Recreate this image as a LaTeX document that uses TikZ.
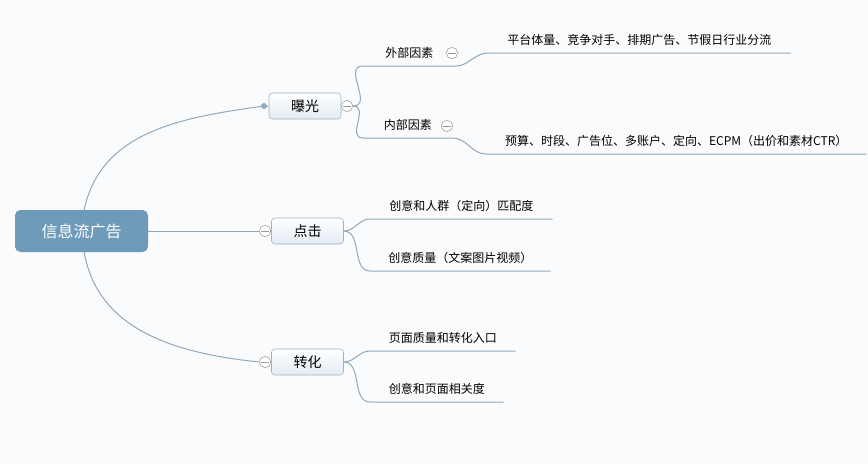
\documentclass[tikz,border=0pt]{standalone}
\usepackage{fontspec}
\setmainfont{Noto Sans CJK SC}
\usetikzlibrary{positioning, backgrounds, calc}

\definecolor{rootblue}{HTML}{6F9BBA}
\definecolor{linkblue}{HTML}{8FA9BF}
\definecolor{boxedge}{HTML}{9DB2C5}
\definecolor{boxfill}{HTML}{E3EBF3}
\definecolor{bgpaper}{HTML}{FAFBFD}

\begin{document}
\begin{tikzpicture}[
  x=0.75pt, y=0.75pt,
  font=\fontsize{9}{11}\selectfont,
  link/.style={draw=linkblue, line width=0.75pt},
  root/.style={rounded corners=4pt, fill=rootblue, text=white, minimum width=99.75pt, minimum height=31.5pt, font=\fontsize{12}{14}\selectfont},
  topic/.style={rounded corners=2.5pt, draw=boxedge, top color=white, bottom color=boxfill, minimum width=54pt, minimum height=19.5pt, font=\fontsize{10.5}{12}\selectfont},
  sub/.style={anchor=south west, inner sep=0, minimum height=19.5pt, minimum width=#1*0.75pt},
  fold/.style={circle, draw=gray!80, fill=white, minimum size=8.5pt, inner sep=0,
    path picture={\draw[gray!80] ([xshift=1.6pt]path picture bounding box.west) -- ([xshift=-1.6pt]path picture bounding box.east);}},
  knob/.style={circle, fill=linkblue, inner sep=0, minimum size=4.5pt}
]
  \useasboundingbox (0,0) rectangle (868,-464);

  % Central topic and main branches
  \node[root]  (ad)    at (81.5,-231) {信息流广告};
  \node[topic] (expo)  at (305,-106)   {曝光};
  \node[topic] (click) at (307.5,-231) {点击};
  \node[topic] (conv)  at (307.5,-362) {转化};

  % Knob and fold markers
  \node[knob] (expo-k)  at (264,-106) {};
  \node[fold] (expo-f)  at (347,-106) {};
  \node[fold] (click-f) at (265,-231) {};
  \node[fold] (conv-f)  at (265,-362) {};

  % Exposure: outer / inner factors
  \node[sub=92] (outer) at (363,-66)  {外部因素};
  \node[fold] (outer-f) at (452,-53)  {};
  \node[sub=89] (inner) at (363,-138) {内部因素};
  \node[fold] (inner-f) at (447,-126) {};

  \node[sub=302] (outer-1) at (488,-53)  {平台体量、竞争对手、排期广告、节假日行业分流};
  \node[sub=380] (inner-1) at (486,-154) {预算、时段、广告位、多账户、定向、ECPM（出价和素材CTR）};

  % Click
  \node[sub=182] (click-1) at (370,-219) {创意和人群（定向）匹配度};
  \node[sub=180] (click-2) at (370,-271) {创意质量（文案图片视频）};

  % Conversion
  \node[sub=145] (conv-1) at (370,-351) {页面质量和转化入口};
  \node[sub=133] (conv-2) at (370,-402) {创意和页面相关度};

  \begin{scope}[on background layer]
    \fill[bgpaper] (0,0) rectangle (868,-464);

    % root to branches
    \draw[link] ([xshift=2pt]ad.north) to[out=78, in=188] (expo-k.center) -- (expo.west);
    \draw[link] (ad.east) -- (click-f.west);
    \draw[link] ([xshift=2pt]ad.south) to[out=-80, in=174] (conv-f.west);

    % exposure subtree
    \draw[link] (expo-f.east) to[out=0, in=180, looseness=1.3] (outer.south west) -- (outer.south east)
      to[out=0, in=180] (outer-1.south west) -- (outer-1.south east);
    \draw[link] (expo-f.east) to[out=0, in=180, looseness=1.3] (inner.south west) -- (inner.south east)
      to[out=0, in=180] (inner-1.south west) -- (inner-1.south east);

    % click subtree
    \draw[link] (click.east) to[out=0, in=180] (click-1.south west) -- (click-1.south east);
    \draw[link] (click.east) to[out=0, in=180] (click-2.south west) -- (click-2.south east);

    % conversion subtree
    \draw[link] (conv.east) to[out=0, in=180] (conv-1.south west) -- (conv-1.south east);
    \draw[link] (conv.east) to[out=0, in=180] (conv-2.south west) -- (conv-2.south east);
  \end{scope}
\end{tikzpicture}
\end{document}
